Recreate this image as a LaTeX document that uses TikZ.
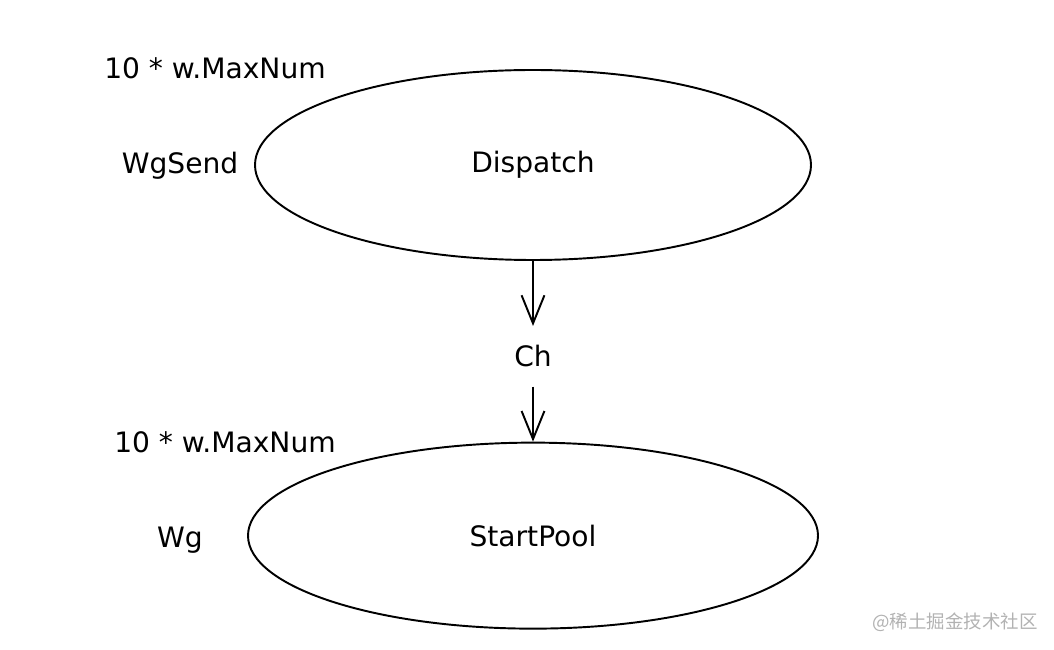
\documentclass[tikz,border=0pt]{standalone}
\usepackage{fontspec}
\setmainfont{DejaVu Sans}
\newfontfamily\cjk{Noto Sans CJK SC}
\usepackage{xcolor}
\usepackage{tikz}
\usetikzlibrary{shapes.geometric, positioning, arrows.meta}

\begin{document}
\begin{tikzpicture}[
    oval/.style={ellipse, draw, line width=1.1pt, inner sep=0pt},
    txt/.style={font=\fontsize{16}{19}\selectfont},
    >={Straight Barb[length=16pt, width=13pt]}
    ]
        \useasboundingbox (0,0) rectangle (21.08,-13);

        \node[oval, txt] (dispatch) at (10.66,-3.3) [minimum width=11.12cm, minimum height=3.8cm] {Dispatch};
        \node[txt] (ch) [below=1.3cm of dispatch, minimum height=1.2cm, inner sep=0pt] {Ch};
        \node[oval, txt] (pool) [below=1.1cm of ch, minimum width=11.4cm, minimum height=3.72cm] {StartPool};

        \node[txt] (num1) at (4.3,-1.36) {10 * w.MaxNum};
        \node[txt] (wgsend) at (3.6,-3.32) {WgSend};
        \node[txt] (num2) at (4.5,-8.84) {10 * w.MaxNum};
        \node[txt] (wg) at (3.6,-10.8) {Wg};

        \node[font=\cjk\fontsize{10.5}{12}\selectfont, text=gray!60] (mark) at (19.1,-12.44) {@稀土掘金技术社区};

		\path[->, line width=1.1pt]
        (dispatch) edge (ch)
        (ch) edge (pool);

    \end{tikzpicture}
\end{document}
